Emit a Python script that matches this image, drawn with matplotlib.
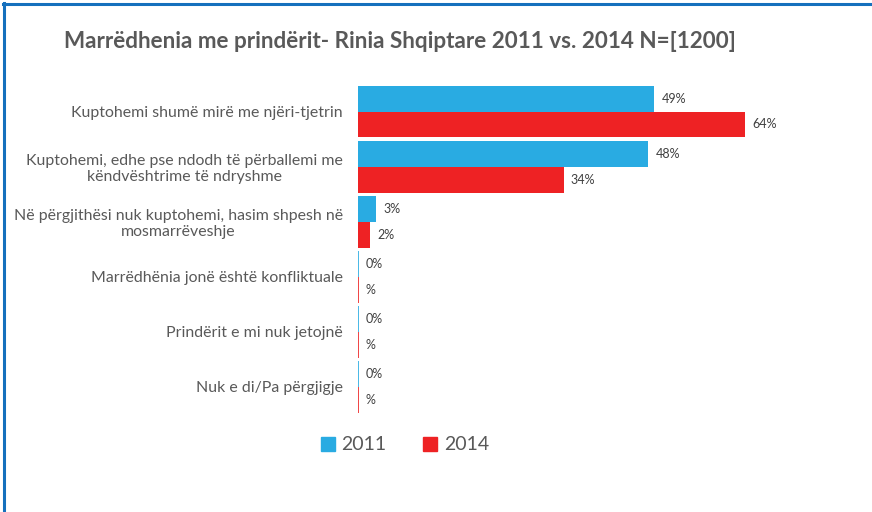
import matplotlib.pyplot as plt
import numpy as np
from matplotlib.patches import Patch
from matplotlib.lines import Line2D

plt.rcParams['font.family'] = ['Lato', 'DejaVu Sans']

categories = [
    "Kuptohemi shumë mirë me njëri-tjetrin",
    "Kuptohemi, edhe pse ndodh të përballemi me\nkëndvështrime të ndryshme",
    "Në përgjithësi nuk kuptohemi, hasim shpesh në\nmosmarrëveshje",
    "Marrëdhënia jonë është konfliktuale",
    "Prindërit e mi nuk jetojnë",
    "Nuk e di/Pa përgjigje",
]
vals_2011 = [49, 48, 3, 0, 0, 0]
vals_2014 = [64, 34, 2, 0, 0, 0]
labels_2011 = ["49%", "48%", "3%", "0%", "0%", "0%"]
labels_2014 = ["64%", "34%", "2%", "%", "%", "%"]
series = ["2011", "2014"]

blue = '#29abe2'
red = '#ee2224'
grey = '#595959'

fig = plt.figure(figsize=(8.72, 5.12), dpi=100)
ax = fig.add_axes([358/872, 1 - 414.5/512, 423.5/872, 330.5/512])

y = np.arange(len(categories))
h = 0.47
v11 = np.array(vals_2011)
v14 = np.array(vals_2014)
# zero bars still show as a thin coloured line
ax.barh(y - h/2, v11, height=h, color=blue, edgecolor=blue,
        linewidth=np.where(v11 == 0, 1.2, 0))
ax.barh(y + h/2, v14, height=h, color=red, edgecolor=red,
        linewidth=np.where(v14 == 0, 1.2, 0))

for i in range(len(categories)):
    ax.text(v11[i] + 1.2, y[i] - h/2, labels_2011[i], va='center', ha='left',
            fontsize=9, color='#404040')
    ax.text(v14[i] + 1.2, y[i] + h/2, labels_2014[i], va='center', ha='left',
            fontsize=9, color='#404040')

ax.set_xlim(0, 70)
ax.set_ylim(len(categories) - 0.5, -0.5)
ax.set_yticks(y)
ax.set_yticklabels(categories, fontsize=11.4, color=grey, multialignment='center')
ax.tick_params(axis='y', length=0, pad=11)
ax.set_xticks([])
for s in ax.spines.values():
    s.set_visible(False)

fig.text(400/872, 1 - 42/512, "Marrëdhenia me prindërit- Rinia Shqiptare 2011 vs. 2014 N=[1200]",
         ha='center', va='center', fontsize=16.2, fontweight='bold', color=grey)

handles = [Patch(color=blue), Patch(color=red)]
fig.legend(handles, series, loc='center', bbox_to_anchor=(405/872, 1 - 445/512),
           ncol=2, frameon=False, fontsize=14, labelcolor=grey,
           handlelength=0.7, handleheight=0.7, handletextpad=0.35, columnspacing=1.9)

# blue frame on top and left edge
fig.add_artist(Line2D([3/872, 1], [1 - 4/512, 1 - 4/512], color='#1570bd', lw=2.2, transform=fig.transFigure))
fig.add_artist(Line2D([4/872, 4/872], [0, 1 - 3/512], color='#1570bd', lw=2.2, transform=fig.transFigure))

fig.savefig('out.png', dpi=100)
